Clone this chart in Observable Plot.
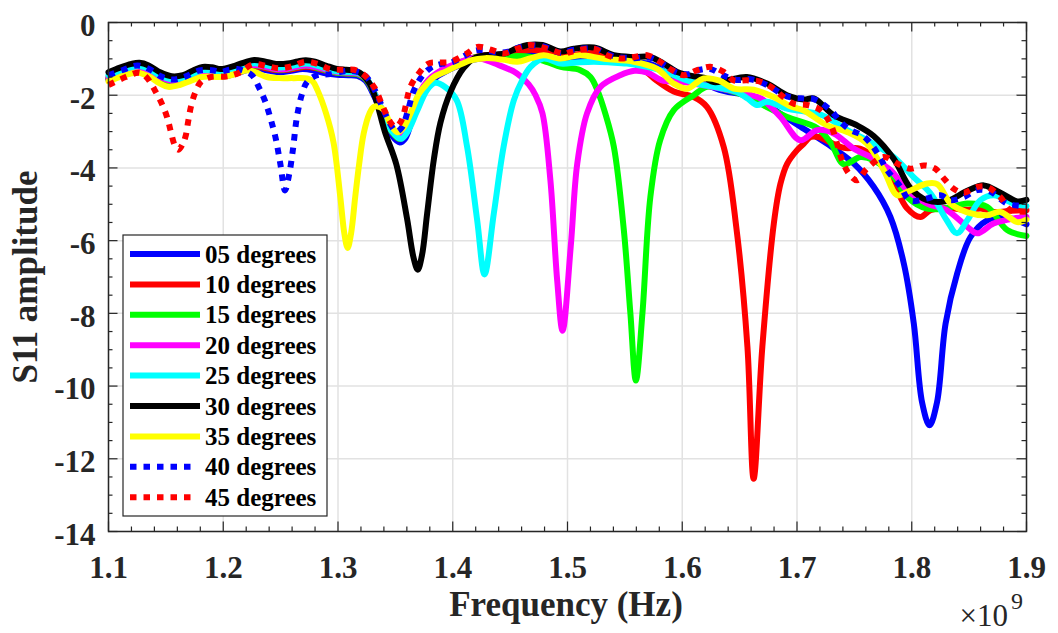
<!DOCTYPE html>
<html><head><meta charset="utf-8">
<script src="https://cdn.jsdelivr.net/npm/d3@7"></script>
<script src="https://cdn.jsdelivr.net/npm/@observablehq/plot@0.6"></script>
<style>
html,body{margin:0;padding:0;background:#fff;}
#chart{width:1058px;height:633px;position:relative;}
</style></head><body><div id="chart"></div>
<script>
// ---- data (frequency in GHz = ×10^9 Hz, S11 amplitude) ----
const seriesLabels = ["05 degrees","10 degrees","15 degrees","20 degrees","25 degrees","30 degrees","35 degrees","40 degrees","45 degrees"];
const seriesColors = ["#0000ff","#ff0000","#00ff00","#ff00ff","#00ffff","#000000","#ffff00","#0000ff","#ff0000"];
const seriesDotted = [false,false,false,false,false,false,false,true,true];

const xMajorTicks = [1.1,1.2,1.3,1.4,1.5,1.6,1.7,1.8,1.9];
const xMinorTicks = [1.12,1.14,1.16,1.18,1.22,1.24,1.26,1.28,1.32,1.34,1.36,1.38,1.42,1.44,1.46,1.48,1.52,1.54,1.56,1.58,1.62,1.64,1.66,1.68,1.72,1.74,1.76,1.78,1.82,1.84,1.86,1.88];
const yMajorTicks = [0,-2,-4,-6,-8,-10,-12,-14];
const yMinorTicks = [-0.5,-1,-1.5,-2.5,-3,-3.5,-4.5,-5,-5.5,-6.5,-7,-7.5,-8.5,-9,-9.5,-10.5,-11,-11.5,-12.5,-13,-13.5];

const s05 = [[1.100,-1.58],[1.110,-1.47],[1.120,-1.38],[1.128,-1.35],[1.138,-1.42],[1.148,-1.60],[1.157,-1.68],[1.167,-1.62],[1.178,-1.48],[1.188,-1.45],[1.198,-1.50],[1.2095,-1.42],[1.2214,-1.30],[1.2294,-1.27],[1.2393,-1.32],[1.2493,-1.37],[1.2592,-1.33],[1.2692,-1.28],[1.2791,-1.32],[1.2891,-1.40],[1.299,-1.44],[1.309,-1.45],[1.317,-1.47],[1.324,-1.60],[1.3319,-2.05],[1.3398,-2.65],[1.3468,-3.10],[1.3538,-3.30],[1.3588,-3.18],[1.3647,-2.65],[1.3717,-2.05],[1.3787,-1.72],[1.3866,-1.48],[1.3956,-1.32],[1.4055,-1.18],[1.4165,-1.03],[1.4284,-0.98],[1.4433,-0.98],[1.4563,-0.90],[1.4682,-0.85],[1.4832,-0.90],[1.4981,-1.00],[1.513,-0.95],[1.5279,-0.95],[1.5429,-1.05],[1.5578,-1.10],[1.5727,-1.15],[1.5876,-1.40],[1.6026,-1.62],[1.6175,-1.68],[1.6324,-1.85],[1.6474,-1.95],[1.6573,-1.98],[1.6683,-2.14],[1.6852,-2.50],[1.7031,-2.87],[1.726,-3.33],[1.7495,-3.88],[1.7668,-4.52],[1.7814,-5.35],[1.7931,-6.63],[1.8018,-8.28],[1.809,-10.45],[1.8155,-11.08],[1.822,-10.45],[1.8295,-8.28],[1.8396,-6.90],[1.8512,-5.90],[1.8657,-5.44],[1.8802,-5.35],[1.900,-5.55]];

const s10 = [[1.100,-1.55],[1.110,-1.42],[1.120,-1.32],[1.127,-1.29],[1.135,-1.36],[1.145,-1.55],[1.155,-1.65],[1.165,-1.62],[1.175,-1.47],[1.182,-1.40],[1.190,-1.41],[1.198,-1.45],[1.210,-1.37],[1.220,-1.26],[1.227,-1.21],[1.236,-1.25],[1.246,-1.31],[1.256,-1.30],[1.265,-1.25],[1.272,-1.22],[1.280,-1.25],[1.290,-1.33],[1.299,-1.38],[1.309,-1.40],[1.317,-1.42],[1.324,-1.55],[1.3319,-1.98],[1.3398,-2.55],[1.3468,-3.00],[1.3538,-3.20],[1.3588,-3.08],[1.3647,-2.55],[1.3717,-1.95],[1.3787,-1.62],[1.3866,-1.40],[1.3956,-1.25],[1.4055,-1.12],[1.4165,-0.98],[1.4284,-0.90],[1.4433,-0.90],[1.4563,-0.82],[1.4682,-0.75],[1.4832,-0.82],[1.4981,-0.92],[1.513,-0.85],[1.5279,-0.85],[1.5429,-0.98],[1.5528,-1.05],[1.5648,-1.25],[1.5777,-1.60],[1.5926,-1.90],[1.610,-2.05],[1.6215,-2.32],[1.6361,-3.42],[1.6474,-5.71],[1.6568,-8.92],[1.6622,-12.55],[1.6698,-8.92],[1.6798,-5.53],[1.6856,-4.43],[1.6915,-3.88],[1.7001,-3.51],[1.706,-3.33],[1.7118,-3.15],[1.719,-3.15],[1.729,-3.30],[1.741,-3.45],[1.7548,-3.47],[1.7698,-3.79],[1.7838,-4.40],[1.7957,-5.10],[1.8076,-5.35],[1.8163,-5.16],[1.8305,-5.10],[1.8464,-5.15],[1.8614,-5.12],[1.8713,-5.21],[1.8862,-5.18],[1.900,-5.16]];

const s15 = [[1.100,-1.52],[1.110,-1.39],[1.120,-1.29],[1.127,-1.26],[1.135,-1.33],[1.145,-1.52],[1.155,-1.62],[1.165,-1.59],[1.175,-1.45],[1.182,-1.37],[1.190,-1.38],[1.198,-1.43],[1.210,-1.34],[1.220,-1.23],[1.227,-1.18],[1.236,-1.22],[1.246,-1.29],[1.256,-1.28],[1.265,-1.22],[1.272,-1.19],[1.280,-1.23],[1.290,-1.32],[1.299,-1.38],[1.309,-1.40],[1.317,-1.42],[1.324,-1.55],[1.3319,-1.98],[1.3398,-2.55],[1.3468,-3.00],[1.3538,-3.20],[1.3588,-3.05],[1.3647,-2.50],[1.3717,-1.92],[1.3787,-1.60],[1.3866,-1.40],[1.3956,-1.25],[1.4055,-1.12],[1.4165,-0.98],[1.4284,-0.92],[1.4433,-0.95],[1.4563,-0.92],[1.4682,-0.95],[1.4832,-1.10],[1.4941,-1.22],[1.511,-1.31],[1.520,-1.50],[1.526,-1.86],[1.5329,-2.50],[1.5404,-3.42],[1.5491,-5.71],[1.5548,-8.00],[1.5596,-9.85],[1.5653,-8.00],[1.5722,-4.80],[1.5807,-3.24],[1.5926,-2.41],[1.610,-2.00],[1.6215,-1.77],[1.6394,-1.86],[1.6573,-2.05],[1.6722,-2.30],[1.6915,-2.60],[1.7175,-2.90],[1.7292,-3.30],[1.7409,-3.90],[1.7552,-3.70],[1.7669,-3.79],[1.7843,-4.25],[1.796,-4.80],[1.8134,-5.12],[1.8305,-5.10],[1.8484,-4.98],[1.8657,-5.07],[1.8832,-5.71],[1.900,-5.87]];

const s20 = [[1.100,-1.50],[1.110,-1.38],[1.120,-1.28],[1.127,-1.25],[1.135,-1.32],[1.145,-1.50],[1.155,-1.60],[1.165,-1.57],[1.175,-1.43],[1.182,-1.36],[1.190,-1.37],[1.198,-1.41],[1.210,-1.33],[1.220,-1.22],[1.227,-1.17],[1.236,-1.21],[1.246,-1.28],[1.256,-1.27],[1.265,-1.21],[1.272,-1.18],[1.280,-1.22],[1.290,-1.30],[1.299,-1.36],[1.309,-1.38],[1.317,-1.40],[1.324,-1.52],[1.3319,-1.95],[1.3398,-2.50],[1.3468,-2.95],[1.3538,-3.15],[1.3588,-3.00],[1.3647,-2.48],[1.3717,-1.90],[1.3787,-1.58],[1.3866,-1.38],[1.3956,-1.22],[1.4055,-1.10],[1.4165,-0.98],[1.4241,-0.99],[1.4384,-1.15],[1.456,-1.40],[1.4662,-1.70],[1.4722,-2.00],[1.4782,-2.50],[1.4851,-4.34],[1.491,-7.09],[1.4957,-8.48],[1.5028,-6.17],[1.5085,-3.88],[1.517,-2.50],[1.5287,-1.77],[1.5459,-1.45],[1.5585,-1.33],[1.5698,-1.38],[1.5822,-1.59],[1.5976,-1.62],[1.6175,-1.72],[1.6404,-1.86],[1.6573,-1.98],[1.6692,-2.10],[1.6856,-2.60],[1.7029,-3.24],[1.7175,-2.96],[1.732,-3.05],[1.7495,-3.47],[1.764,-3.70],[1.7814,-4.06],[1.796,-4.61],[1.8134,-4.98],[1.8305,-5.16],[1.8484,-5.62],[1.857,-5.80],[1.8713,-5.53],[1.889,-5.39],[1.900,-5.35]];

const s25 = [[1.100,-1.45],[1.110,-1.33],[1.120,-1.23],[1.127,-1.20],[1.135,-1.27],[1.145,-1.46],[1.155,-1.56],[1.165,-1.53],[1.175,-1.39],[1.182,-1.31],[1.190,-1.32],[1.198,-1.36],[1.210,-1.28],[1.220,-1.17],[1.227,-1.12],[1.236,-1.16],[1.246,-1.23],[1.256,-1.22],[1.265,-1.16],[1.272,-1.13],[1.280,-1.17],[1.290,-1.27],[1.299,-1.34],[1.309,-1.36],[1.317,-1.38],[1.324,-1.50],[1.3319,-1.95],[1.3398,-2.52],[1.3468,-2.98],[1.3548,-3.20],[1.3607,-3.00],[1.3687,-2.45],[1.3775,-1.86],[1.3846,-1.66],[1.3936,-1.78],[1.4035,-2.14],[1.4125,-3.42],[1.4213,-5.44],[1.4277,-6.93],[1.4358,-5.25],[1.4443,-3.42],[1.4532,-2.14],[1.4605,-1.59],[1.4678,-1.22],[1.4792,-0.99],[1.4941,-1.13],[1.508,-1.10],[1.523,-1.08],[1.5379,-1.10],[1.5518,-1.13],[1.5658,-1.20],[1.5807,-1.31],[1.5926,-1.45],[1.6042,-1.59],[1.6155,-1.70],[1.6275,-1.77],[1.6478,-1.91],[1.6573,-2.10],[1.6652,-2.27],[1.6739,-2.18],[1.6912,-2.37],[1.7071,-2.45],[1.722,-2.55],[1.7466,-3.01],[1.7618,-3.25],[1.7843,-3.70],[1.8016,-4.25],[1.8163,-4.70],[1.8305,-5.44],[1.8394,-5.80],[1.8484,-5.44],[1.8597,-4.89],[1.8713,-4.75],[1.8889,-4.98],[1.900,-5.05]];

const s30 = [[1.100,-1.37],[1.110,-1.24],[1.120,-1.14],[1.127,-1.11],[1.135,-1.18],[1.145,-1.37],[1.155,-1.48],[1.165,-1.45],[1.175,-1.30],[1.182,-1.22],[1.190,-1.23],[1.198,-1.28],[1.210,-1.19],[1.220,-1.08],[1.227,-1.03],[1.236,-1.07],[1.246,-1.14],[1.256,-1.13],[1.265,-1.07],[1.272,-1.04],[1.280,-1.08],[1.290,-1.19],[1.298,-1.27],[1.307,-1.30],[1.315,-1.32],[1.3219,-1.45],[1.3279,-1.70],[1.3329,-2.10],[1.3408,-3.00],[1.3508,-3.90],[1.3602,-5.40],[1.3657,-6.45],[1.3695,-6.80],[1.3732,-6.40],[1.3777,-5.25],[1.3836,-3.75],[1.3893,-2.75],[1.3981,-1.90],[1.4095,-1.25],[1.4185,-0.99],[1.4284,-0.90],[1.4384,-0.88],[1.4463,-0.84],[1.4553,-0.72],[1.4652,-0.62],[1.4782,-0.62],[1.4939,-0.80],[1.5055,-0.72],[1.523,-0.69],[1.5404,-0.90],[1.5578,-0.95],[1.5722,-0.95],[1.5837,-1.13],[1.5956,-1.36],[1.610,-1.48],[1.6195,-1.52],[1.6275,-1.64],[1.6391,-1.59],[1.6563,-1.50],[1.6739,-1.68],[1.6912,-2.00],[1.7059,-2.12],[1.7146,-2.09],[1.732,-2.55],[1.7524,-2.83],[1.7668,-3.12],[1.7843,-3.75],[1.7988,-4.55],[1.8134,-4.89],[1.8305,-4.91],[1.8484,-4.63],[1.8628,-4.48],[1.8772,-4.68],[1.8919,-4.92],[1.900,-4.88]];

const s35 = [[1.100,-1.62],[1.110,-1.50],[1.120,-1.40],[1.126,-1.38],[1.135,-1.48],[1.145,-1.68],[1.152,-1.77],[1.162,-1.72],[1.172,-1.60],[1.181,-1.50],[1.190,-1.49],[1.198,-1.50],[1.210,-1.42],[1.221,-1.31],[1.229,-1.38],[1.238,-1.50],[1.249,-1.53],[1.261,-1.53],[1.273,-1.54],[1.278,-1.62],[1.2821,-1.86],[1.2896,-2.50],[1.2961,-3.30],[1.302,-4.80],[1.3055,-5.80],[1.3084,-6.20],[1.3114,-5.80],[1.315,-4.80],[1.3184,-3.90],[1.3224,-3.05],[1.3274,-2.50],[1.3312,-2.32],[1.3359,-2.32],[1.3398,-2.40],[1.3458,-2.80],[1.3516,-3.02],[1.3568,-2.90],[1.3632,-2.50],[1.3707,-1.95],[1.3777,-1.68],[1.3836,-1.50],[1.3936,-1.35],[1.4035,-1.20],[1.4155,-1.04],[1.4284,-0.98],[1.4433,-1.02],[1.4563,-1.08],[1.4682,-0.98],[1.4792,-0.90],[1.4941,-0.99],[1.511,-0.90],[1.5319,-1.00],[1.5578,-1.08],[1.5777,-1.27],[1.5926,-1.68],[1.6042,-1.82],[1.6187,-1.54],[1.6324,-1.60],[1.6449,-1.82],[1.6623,-1.85],[1.6797,-2.05],[1.6941,-2.30],[1.7059,-2.42],[1.7263,-2.83],[1.7436,-3.01],[1.7608,-3.33],[1.7756,-4.06],[1.7873,-4.75],[1.7967,-4.65],[1.8134,-4.43],[1.8225,-4.45],[1.8338,-4.98],[1.8484,-5.22],[1.8657,-5.30],[1.8772,-5.21],[1.8919,-5.49],[1.900,-5.42]];

const s40 = [[1.100,-1.45],[1.113,-1.30],[1.125,-1.18],[1.135,-1.27],[1.1455,-1.48],[1.1557,-1.57],[1.1674,-1.48],[1.179,-1.32],[1.190,-1.31],[1.198,-1.36],[1.205,-1.30],[1.212,-1.28],[1.225,-1.45],[1.2313,-1.80],[1.2363,-2.15],[1.2413,-2.65],[1.2458,-3.20],[1.2498,-3.90],[1.2538,-4.62],[1.2573,-4.20],[1.2607,-3.50],[1.2642,-2.60],[1.2688,-1.95],[1.2732,-1.63],[1.2818,-1.45],[1.2931,-1.42],[1.308,-1.33],[1.3196,-1.38],[1.3249,-1.50],[1.3319,-1.85],[1.3389,-2.35],[1.3448,-2.75],[1.3508,-3.00],[1.3558,-2.88],[1.3607,-2.45],[1.3657,-1.90],[1.3727,-1.50],[1.3806,-1.25],[1.3886,-1.15],[1.3986,-1.10],[1.4085,-0.95],[1.4185,-0.78],[1.4284,-0.76],[1.4384,-0.83],[1.4483,-0.80],[1.4583,-0.68],[1.4682,-0.63],[1.4782,-0.65],[1.4939,-0.83],[1.5055,-0.75],[1.523,-0.72],[1.5404,-0.93],[1.5578,-0.98],[1.5722,-0.97],[1.5837,-1.15],[1.5956,-1.38],[1.6056,-1.42],[1.6155,-1.30],[1.6245,-1.28],[1.6354,-1.45],[1.6474,-1.58],[1.6593,-1.56],[1.6739,-1.72],[1.6912,-2.03],[1.7059,-2.09],[1.713,-2.09],[1.722,-2.23],[1.7306,-2.46],[1.7379,-2.73],[1.7466,-2.96],[1.7568,-3.10],[1.7655,-3.38],[1.7728,-3.74],[1.7785,-4.06],[1.7902,-4.52],[1.7986,-4.90],[1.8134,-4.84],[1.825,-4.75],[1.8335,-4.89],[1.8454,-4.80],[1.857,-4.61],[1.8683,-4.65],[1.8832,-4.98],[1.900,-5.05]];

const s45 = [[1.100,-1.72],[1.1149,-1.50],[1.1265,-1.38],[1.133,-1.50],[1.1412,-1.91],[1.147,-2.27],[1.1514,-2.64],[1.1543,-3.00],[1.1578,-3.38],[1.161,-3.50],[1.165,-3.32],[1.1674,-3.10],[1.1694,-2.73],[1.1718,-2.32],[1.1753,-1.95],[1.1806,-1.63],[1.189,-1.50],[1.204,-1.48],[1.214,-1.38],[1.226,-1.15],[1.238,-1.20],[1.2493,-1.26],[1.2602,-1.20],[1.2717,-1.08],[1.2831,-1.15],[1.2931,-1.28],[1.304,-1.30],[1.314,-1.30],[1.3219,-1.42],[1.3319,-1.80],[1.3389,-2.30],[1.3448,-2.70],[1.3498,-2.87],[1.3543,-2.75],[1.3574,-2.50],[1.3631,-1.77],[1.3704,-1.40],[1.3787,-1.13],[1.3886,-1.10],[1.3981,-1.08],[1.4125,-0.85],[1.4214,-0.67],[1.4334,-0.75],[1.4443,-0.85],[1.4563,-0.72],[1.4672,-0.62],[1.4822,-0.72],[1.4971,-0.86],[1.5026,-0.81],[1.523,-0.72],[1.5345,-0.90],[1.5459,-0.99],[1.5578,-0.95],[1.5693,-0.90],[1.5807,-1.08],[1.5911,-1.31],[1.6014,-1.45],[1.613,-1.31],[1.6245,-1.22],[1.6362,-1.36],[1.6449,-1.59],[1.6563,-1.59],[1.6683,-1.63],[1.6797,-1.82],[1.6882,-2.05],[1.6971,-2.23],[1.7089,-2.27],[1.7205,-2.41],[1.729,-2.78],[1.7349,-3.33],[1.7393,-3.79],[1.7451,-4.15],[1.7525,-4.34],[1.7608,-4.02],[1.7757,-3.70],[1.7873,-3.88],[1.7988,-4.02],[1.8106,-3.93],[1.8205,-4.02],[1.828,-4.29],[1.8365,-4.57],[1.8451,-4.68],[1.857,-4.52],[1.8657,-4.52],[1.8772,-4.80],[1.886,-5.16],[1.900,-5.20]];

const seriesValues = [s05,s10,s15,s20,s25,s30,s35,s40,s45];

// ---- layout ----
const W = 1058, H = 633;
const mL = 108, mR = 32, mT = 22, mB = 102;
const innerW = W - mL - mR, innerH = H - mT - mB;
const axisColor = "#262626";
const serif = "'Liberation Serif','Times New Roman',serif";
const majorLen = 9.5, minorLen = 4.5;

const lineMarks = seriesValues.map((vals, i) =>
  Plot.line(vals, {
    x: d => d[0], y: d => d[1],
    stroke: seriesColors[i], strokeWidth: 6,
    curve: "catmull-rom",
    strokeLinejoin: "round",
    strokeLinecap: seriesDotted[i] ? "butt" : "round",
    strokeDasharray: seriesDotted[i] ? "6.5,7" : null
  })
);

const tickStyle = {stroke: axisColor, strokeWidth: 1.2};
const plot = Plot.plot({
  width: W, height: H,
  marginLeft: mL, marginRight: mR, marginTop: mT, marginBottom: mB,
  style: {fontFamily: serif, fontWeight: "bold", fontSize: "31px", color: axisColor, background: "#fff"},
  x: {domain: [1.1, 1.9]},
  y: {domain: [-14, 0]},
  marks: [
    Plot.ruleX(xMajorTicks, {stroke: "#e2e2e2", strokeWidth: 1.5}),
    Plot.ruleY(yMajorTicks, {stroke: "#e2e2e2", strokeWidth: 1.5}),
    ...lineMarks,
    // inward ticks on all four sides
    Plot.ruleX(xMajorTicks, {...tickStyle, insetTop: innerH - majorLen}),
    Plot.ruleX(xMajorTicks, {...tickStyle, insetBottom: innerH - majorLen}),
    Plot.ruleX(xMinorTicks, {...tickStyle, insetTop: innerH - minorLen}),
    Plot.ruleX(xMinorTicks, {...tickStyle, insetBottom: innerH - minorLen}),
    Plot.ruleY(yMajorTicks, {...tickStyle, insetRight: innerW - majorLen}),
    Plot.ruleY(yMajorTicks, {...tickStyle, insetLeft: innerW - majorLen}),
    Plot.ruleY(yMinorTicks, {...tickStyle, insetRight: innerW - minorLen}),
    Plot.ruleY(yMinorTicks, {...tickStyle, insetLeft: innerW - minorLen}),
    Plot.frame({stroke: axisColor, strokeWidth: 1.5}),
    Plot.axisX(xMajorTicks, {tickSize: 0, tickPadding: 24, tickFormat: d => d.toFixed(1), label: null, fill: axisColor}),
    Plot.axisY(yMajorTicks, {tickSize: 0, tickPadding: 13, dy: 3.5, tickFormat: d => String(d), label: null, fill: axisColor})
  ]
});

const svg = d3.select(plot);
// axis titles
svg.append("text").attr("x", 566).attr("y", 616).attr("text-anchor", "middle")
  .attr("font-family", serif).attr("font-weight", "bold").attr("font-size", 35).attr("fill", axisColor)
  .text("Frequency (Hz)");
svg.append("text").attr("transform", "translate(37,277) rotate(-90)").attr("text-anchor", "middle")
  .attr("font-family", serif).attr("font-weight", "bold").attr("font-size", 35).attr("fill", axisColor)
  .text("S11 amplitude");
// exponent
svg.append("text").attr("x", 1008).attr("y", 626).attr("text-anchor", "end")
  .attr("font-family", serif).attr("font-weight", "normal").attr("font-size", 31).attr("fill", axisColor)
  .text("×10");
svg.append("text").attr("x", 1011).attr("y", 609).attr("text-anchor", "start")
  .attr("font-family", serif).attr("font-weight", "normal").attr("font-size", 24).attr("fill", axisColor)
  .text("9");

// legend
const lg = svg.append("g");
const lx = 123, ly = 235, lw = 204, lh = 281, rowH = 30.4, row0 = 254;
lg.append("rect").attr("x", lx).attr("y", ly).attr("width", lw).attr("height", lh)
  .attr("fill", "#fff").attr("stroke", axisColor).attr("stroke-width", 1.2);
seriesLabels.forEach((lab, i) => {
  const cy = row0 + i * rowH;
  lg.append("line").attr("x1", 130).attr("x2", seriesDotted[i] ? 191 : 200).attr("y1", cy).attr("y2", cy)
    .attr("stroke", seriesColors[i]).attr("stroke-width", 6)
    .attr("stroke-dasharray", seriesDotted[i] ? "6.5,7" : null);
  lg.append("text").attr("x", 205).attr("y", cy).attr("dy", "0.34em").attr("text-anchor", "start")
    .attr("font-family", serif).attr("font-weight", "bold").attr("font-size", 25).attr("fill", "#000")
    .text(lab);
});

document.getElementById("chart").appendChild(plot);
</script>
</body></html>
